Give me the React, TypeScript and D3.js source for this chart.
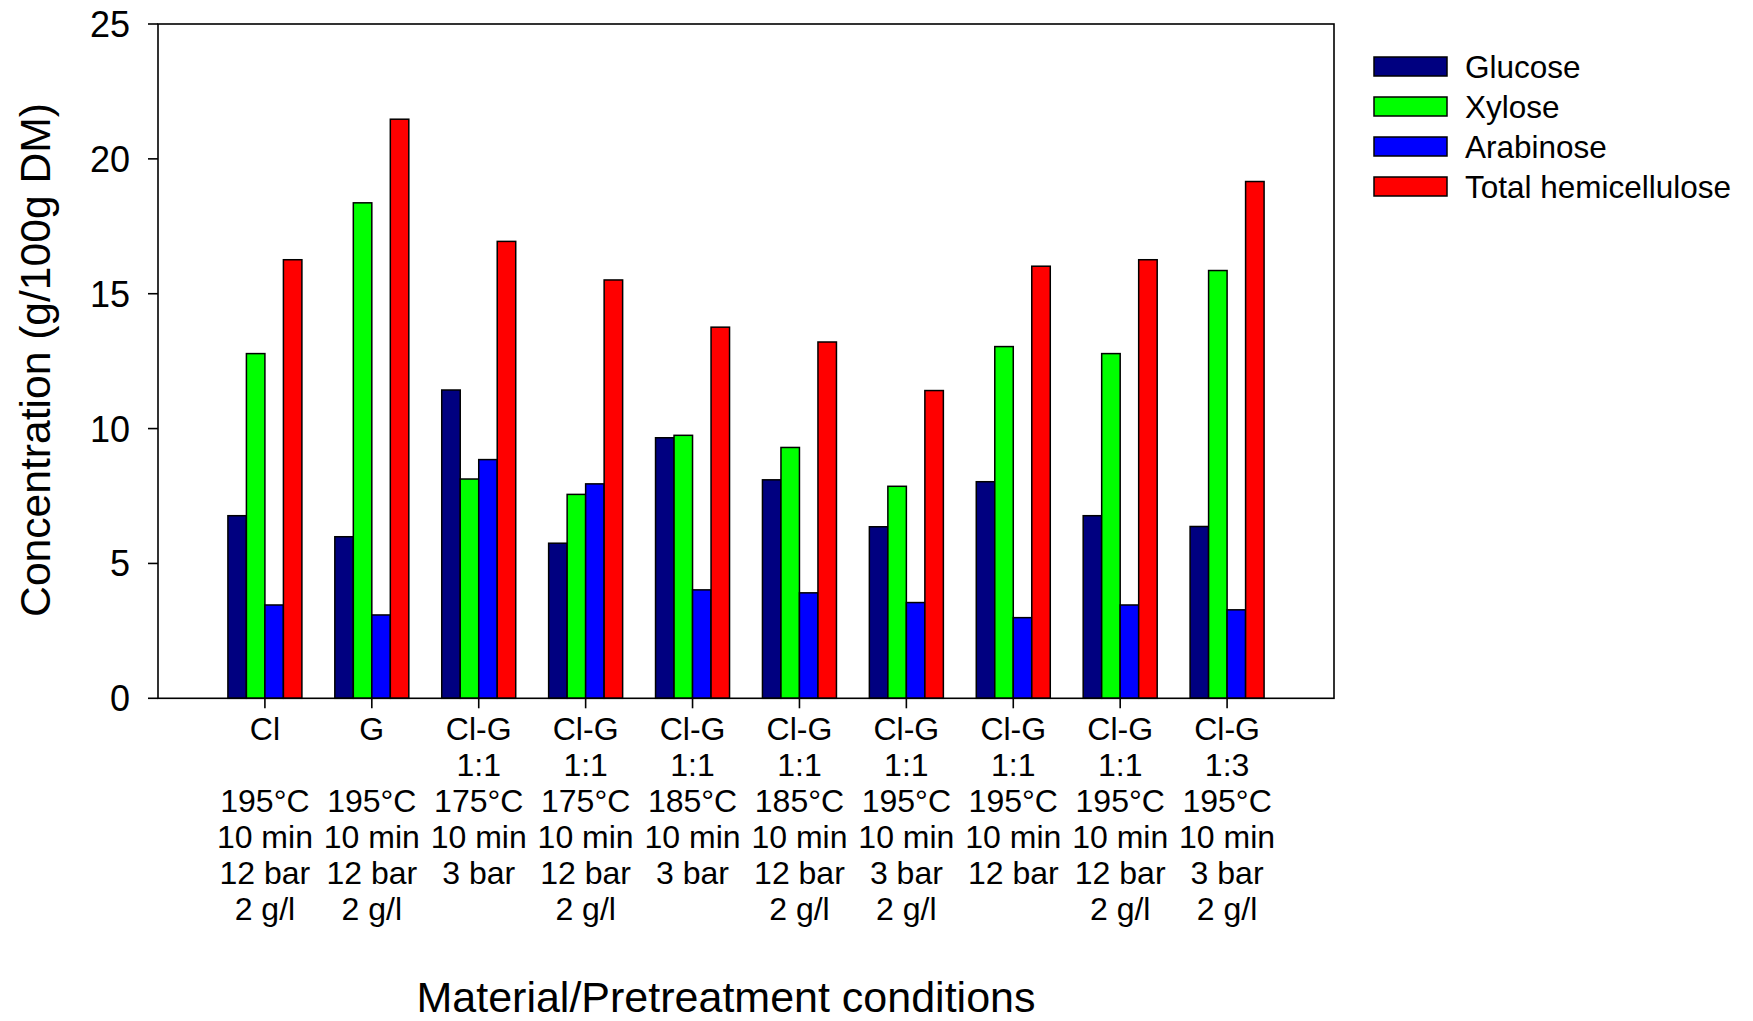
import React from "react";
import * as d3 from "d3";

const categories = ["Cl", "G", "Cl-G 175 3", "Cl-G 175 12", "Cl-G 185 3", "Cl-G 185 12", "Cl-G 195 3", "Cl-G 195 12", "Cl-G 195 12 2", "Cl-G 1:3"];
const labelLines: string[][] = [
  ["Cl", "", "195°C", "10 min", "12 bar", "2 g/l"],
  ["G", "", "195°C", "10 min", "12 bar", "2 g/l"],
  ["Cl-G", "1:1", "175°C", "10 min", "3 bar", ""],
  ["Cl-G", "1:1", "175°C", "10 min", "12 bar", "2 g/l"],
  ["Cl-G", "1:1", "185°C", "10 min", "3 bar", ""],
  ["Cl-G", "1:1", "185°C", "10 min", "12 bar", "2 g/l"],
  ["Cl-G", "1:1", "195°C", "10 min", "3 bar", "2 g/l"],
  ["Cl-G", "1:1", "195°C", "10 min", "12 bar", ""],
  ["Cl-G", "1:1", "195°C", "10 min", "12 bar", "2 g/l"],
  ["Cl-G", "1:3", "195°C", "10 min", "3 bar", "2 g/l"],
];
const seriesNames = ["Glucose", "Xylose", "Arabinose", "Total hemicellulose"];
const seriesColors = ["#000080", "#00FF00", "#0000FF", "#FF0000"];
const glucose = [6.77, 5.99, 11.43, 5.75, 9.66, 8.1, 6.36, 8.03, 6.77, 6.37];
const xylose = [12.78, 18.37, 8.13, 7.56, 9.75, 9.3, 7.86, 13.04, 12.78, 15.86];
const arabinose = [3.46, 3.09, 8.85, 7.95, 4.02, 3.91, 3.55, 2.99, 3.46, 3.28];
const total = [16.26, 21.47, 16.94, 15.51, 13.76, 13.21, 11.41, 16.02, 16.26, 19.16];
const yTicks = [0, 5, 10, 15, 20, 25];

const W = 1753;
const H = 1021;
const L = 158, R = 1334, T = 24, B = 698.3;
const FONT = "'Liberation Sans', Arial, Helvetica, sans-serif";

export default function App() {
  const series = [glucose, xylose, arabinose, total];
  const x = d3.scaleLinear().domain([0, categories.length + 1]).range([L, R]);
  const inner = d3.scaleBand<number>().domain(d3.range(series.length)).range([-37, 37]).padding(0);
  const y = d3.scaleLinear().domain([0, 25]).range([B, T]);
  const lineH = 36;

  return (
    <svg width={W} height={H} style={{ position: "absolute", left: 0, top: 0, background: "#fff" }} fontFamily={FONT}>
      <rect x={0} y={0} width={W} height={H} fill="#fff" />
      {categories.map((c, i) =>
        series.map((s, j) => (
          <rect
            key={`${c}-${j}`}
            x={x(i + 1) + (inner(j) as number)}
            y={y(s[i])}
            width={inner.bandwidth()}
            height={y(0) - y(s[i])}
            fill={seriesColors[j]}
            stroke="#000"
            strokeWidth={1.5}
          />
        ))
      )}
      <rect x={L} y={T} width={R - L} height={B - T} fill="none" stroke="#000" strokeWidth={1.6} />
      {yTicks.map((t) => (
        <g key={t}>
          <line x1={L - 10} x2={L} y1={y(t)} y2={y(t)} stroke="#000" strokeWidth={1.6} />
          <text x={L - 28} y={y(t)} dy="0.36em" textAnchor="end" fontSize={36} fill="#000">
            {t}
          </text>
        </g>
      ))}
      {categories.map((c, i) => (
        <g key={c}>
          <line x1={x(i + 1)} x2={x(i + 1)} y1={B} y2={B + 10} stroke="#000" strokeWidth={1.6} />
          {labelLines[i].map((ln, k) =>
            ln ? (
              <text key={k} x={x(i + 1)} y={739.5 + k * lineH} textAnchor="middle" fontSize={32} fill="#000">
                {ln}
              </text>
            ) : null
          )}
        </g>
      ))}
      <text x={726} y={1012} textAnchor="middle" fontSize={43} fill="#000">
        Material/Pretreatment conditions
      </text>
      <text transform={`translate(50, 360) rotate(-90)`} textAnchor="middle" fontSize={42.6} fill="#000">
        Concentration (g/100g DM)
      </text>
      {seriesNames.map((n, j) => (
        <g key={n}>
          <rect x={1374} y={57 + j * 40} width={73} height={19} fill={seriesColors[j]} stroke="#000" strokeWidth={1.5} />
          <text x={1465} y={66.5 + j * 40} dy="0.36em" fontSize={31.5} fill="#000">
            {n}
          </text>
        </g>
      ))}
    </svg>
  );
}
